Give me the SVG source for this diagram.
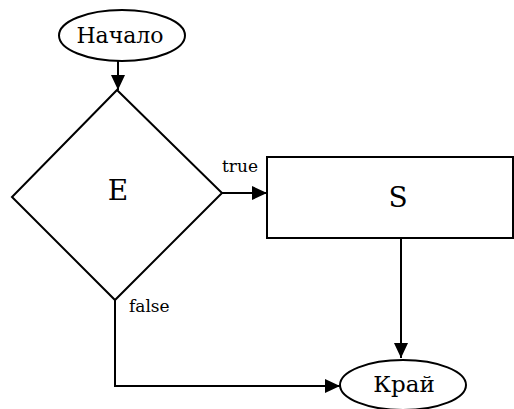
<svg xmlns="http://www.w3.org/2000/svg" width="514" height="409" viewBox="0 0 514 409">
<style>
.s{fill:#fff;stroke:#000;stroke-width:2}
.c{fill:none;stroke:#000;stroke-width:2}
.t{font-family:"DejaVu Serif",serif;fill:#000}
</style>
<defs>
<marker id="ah" viewBox="0 0 15 14" refX="15" refY="7" markerWidth="15" markerHeight="14" markerUnits="userSpaceOnUse" orient="auto">
<path d="M0,0 L15,7 L0,14 z" fill="#000"/>
</marker>
</defs>
<rect width="514" height="409" fill="#fff"/>
<g id="connectors">
<path class="c" d="M118,61 V90" marker-end="url(#ah)"/>
<path class="c" d="M222,193 H267" marker-end="url(#ah)"/>
<path class="c" d="M401,238 V358" marker-end="url(#ah)"/>
<path class="c" d="M115,300 V386 H340" marker-end="url(#ah)"/>
<text class="t" x="222" y="172" font-size="17">true</text>
<text class="t" x="129" y="312" font-size="17">false</text>
</g>
<g id="start">
<ellipse class="s" cx="122" cy="35.5" rx="63" ry="25.5"/>
<text class="t" x="120" y="43" font-size="22" text-anchor="middle">Начало</text>
</g>
<g id="decision">
<polygon class="s" points="117,90 222,193 115,300 12,197"/>
<text class="t" x="118" y="200" font-size="28" text-anchor="middle">E</text>
</g>
<g id="statement">
<rect class="s" x="267" y="157" width="246" height="81"/>
<text class="t" x="398" y="207" font-size="28" text-anchor="middle">S</text>
</g>
<g id="end">
<ellipse class="s" cx="403" cy="385" rx="63" ry="25"/>
<text class="t" x="404" y="392" font-size="23" text-anchor="middle">Край</text>
</g>
</svg>
